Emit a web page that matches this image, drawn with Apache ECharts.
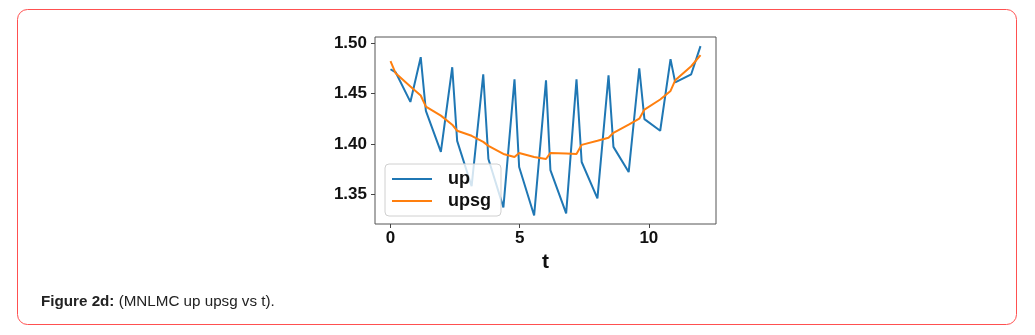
<!DOCTYPE html>
<html>
<head>
<meta charset="utf-8">
<script src="https://cdn.jsdelivr.net/npm/echarts@6/dist/echarts.min.js"></script>
<style>
html,body{margin:0;padding:0;background:#fff;}
#c{width:1035px;height:335px;}
</style>
</head>
<body>
<div id="c"></div>
<script>
const seriesNames = ['up', 'upsg'];
const tVals = [0, 0.2, 0.77, 1.17, 1.37, 1.95, 2.39, 2.58, 3.14, 3.59, 3.79, 4.37, 4.80, 4.98, 5.56, 6.02, 6.19, 6.80, 7.20, 7.40, 8.01, 8.44, 8.63, 9.22, 9.63, 9.83, 10.44, 10.84, 11.02, 11.64, 12.0];
const upVals = [1.474, 1.471, 1.4416, 1.486, 1.4327, 1.392, 1.476, 1.403, 1.358, 1.469, 1.385, 1.337, 1.464, 1.377, 1.329, 1.463, 1.374, 1.331, 1.464, 1.382, 1.346, 1.468, 1.397, 1.372, 1.475, 1.4245, 1.413, 1.484, 1.461, 1.469, 1.497];
const upsgVals = [1.482, 1.470, 1.457, 1.448, 1.437, 1.428, 1.419, 1.413, 1.408, 1.402, 1.398, 1.390, 1.387, 1.391, 1.387, 1.385, 1.391, 1.3905, 1.390, 1.399, 1.403, 1.406, 1.411, 1.419, 1.425, 1.434, 1.444, 1.4525, 1.463, 1.477, 1.488];
const xTicks = [0, 5, 10];
const yTicks = [1.35, 1.40, 1.45, 1.50];
const xTitle = 't';
const captionBold = 'Figure 2d:';
const captionText = ' (MNLMC up upsg vs t).';

const chart = echarts.init(document.getElementById('c'), null, {renderer: 'canvas'});
const pair = (ys) => tVals.map((t, i) => [t, ys[i]]);
const tickFont = {fontFamily: 'Liberation Sans', fontWeight: 'bold', fontSize: 17, color: '#111'};

chart.setOption({
  animation: false,
  backgroundColor: '#fff',
  graphic: [
    {type: 'rect', shape: {x: 17.5, y: 9.5, width: 999, height: 315, r: 10},
     style: {fill: 'none', stroke: '#ff5050', lineWidth: 1}, z: 0}
  ],
  title: {
    text: '{b|' + captionBold + '}{n|' + captionText + '}',
    left: 36, top: 289,
    textStyle: {
      rich: {
        b: {fontFamily: 'Liberation Sans', fontWeight: 'bold', fontSize: 15.2, color: '#222'},
        n: {fontFamily: 'Liberation Sans', fontWeight: 'normal', fontSize: 15.2, color: '#222'}
      }
    }
  },
  grid: {left: 375, top: 37, right: 319, bottom: 111, show: true, borderColor: '#555', borderWidth: 1, backgroundColor: 'transparent'},
  xAxis: {
    type: 'value', min: -0.6, max: 12.6,
    name: xTitle, nameLocation: 'middle', nameGap: 21,
    nameTextStyle: {fontFamily: 'Liberation Sans', fontWeight: 'bold', fontSize: 21, color: '#111'},
    axisLine: {show: false, onZero: false},
    splitLine: {show: false},
    axisTick: {show: true, customValues: xTicks, length: 4, lineStyle: {color: '#444'}},
    axisLabel: Object.assign({customValues: xTicks, margin: 6}, tickFont)
  },
  yAxis: {
    type: 'value', min: 1.3205, max: 1.506,
    axisLine: {show: false, onZero: false},
    splitLine: {show: false},
    axisTick: {show: true, customValues: yTicks, length: 4, lineStyle: {color: '#444'}},
    axisLabel: Object.assign({customValues: yTicks, margin: 8, formatter: (v) => v.toFixed(2)}, tickFont)
  },
  legend: {
    orient: 'vertical', left: 385, top: 164,
    data: seriesNames,
    icon: 'rect', itemWidth: 40, itemHeight: 2, itemGap: 4,
    padding: [6, 10, 6, 7],
    backgroundColor: 'rgba(255,255,255,0.8)',
    borderColor: '#d0d0d0', borderWidth: 1, borderRadius: 4,
    textStyle: {fontFamily: 'Liberation Sans', fontWeight: 'bold', fontSize: 18, color: '#111', lineHeight: 18, padding: [0, 0, 0, 11]},
    z: 10
  },
  series: [
    {name: seriesNames[0], type: 'line', data: pair(upVals), showSymbol: false, symbol: 'none',
     lineStyle: {color: '#1f77b4', width: 2}, itemStyle: {color: '#1f77b4'}, z: 2},
    {name: seriesNames[1], type: 'line', data: pair(upsgVals), showSymbol: false, symbol: 'none',
     lineStyle: {color: '#ff7f0e', width: 2}, itemStyle: {color: '#ff7f0e'}, z: 3}
  ]
});
</script>
</body>
</html>
